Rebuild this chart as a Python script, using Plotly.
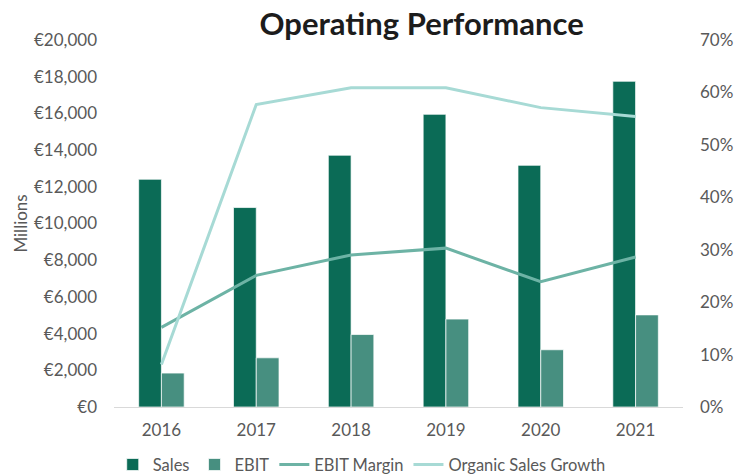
import plotly.graph_objects as go

years = ["2016", "2017", "2018", "2019", "2020", "2021"]
sales = [12410, 10870, 13720, 15950, 13170, 17750]
ebit = [1850, 2680, 3950, 4790, 3120, 5020]
ebit_margin = [0.152, 0.251, 0.290, 0.303, 0.239, 0.286]
organic_growth = [0.081, 0.577, 0.609, 0.609, 0.571, 0.554]

FONT = "Lato"
GREY = "#595959"

fig = go.Figure()

fig.add_trace(go.Bar(
    x=years, y=sales, name="Sales",
    marker=dict(color="#0b6b56", line=dict(color="rgba(255,255,255,0.7)", width=1)),
))
fig.add_trace(go.Bar(
    x=years, y=ebit, name="EBIT",
    marker=dict(color="#478f80", line=dict(color="rgba(255,255,255,0.7)", width=1)),
))
fig.add_trace(go.Scatter(
    x=years, y=ebit_margin, name="EBIT Margin", yaxis="y2",
    mode="lines", line=dict(color="#6db3a5", width=3),
))
fig.add_trace(go.Scatter(
    x=years, y=organic_growth, name="Organic Sales Growth", yaxis="y2",
    mode="lines", line=dict(color="#a7dad5", width=3),
))

# the page body has an 8px margin, so the figure is sized to fit the window
fig.update_layout(
    width=740,
    height=468,
    margin=dict(l=106, r=65, t=32, b=69, autoexpand=False),
    plot_bgcolor="white",
    paper_bgcolor="white",
    font=dict(family=FONT, size=17, color=GREY),
    barmode="group",
    bargap=0.52,
    bargroupgap=0,
    title=dict(
        text="<b>Operating Performance</b>",
        font=dict(family=FONT, size=31, color="#1c1c1c"),
        x=0.559, xanchor="center", xref="container",
        y=0.966, yanchor="middle", yref="container",
    ),
    xaxis=dict(
        type="category", range=[-0.5, 5.5], automargin=False,
        showline=True, linecolor="#d9d9d9", linewidth=1,
        showgrid=False, ticks="", ticklabelstandoff=8,
    ),
    yaxis=dict(
        range=[0, 20000], dtick=2000, tickprefix="€", tickformat=",", automargin=False,
        showgrid=False, zeroline=False, ticks="", ticklabelstandoff=16,
    ),
    yaxis2=dict(
        overlaying="y", side="right", range=[0, 0.7], dtick=0.1, tickformat=".0%",
        automargin=False,
        showgrid=False, zeroline=False, ticks="", ticklabelstandoff=16,
    ),
    legend=dict(
        orientation="h", x=0.478, xanchor="center", xref="container",
        y=0.024, yanchor="middle", yref="container",
        font=dict(size=16.5, color=GREY), itemwidth=30,
    ),
    annotations=[dict(
        text="Millions", textangle=-90, xref="paper", yref="paper",
        x=-0.165, y=0.50, xanchor="center", yanchor="middle",
        showarrow=False, font=dict(size=17, color=GREY),
    )],
)

fig.write_html("out.html")
